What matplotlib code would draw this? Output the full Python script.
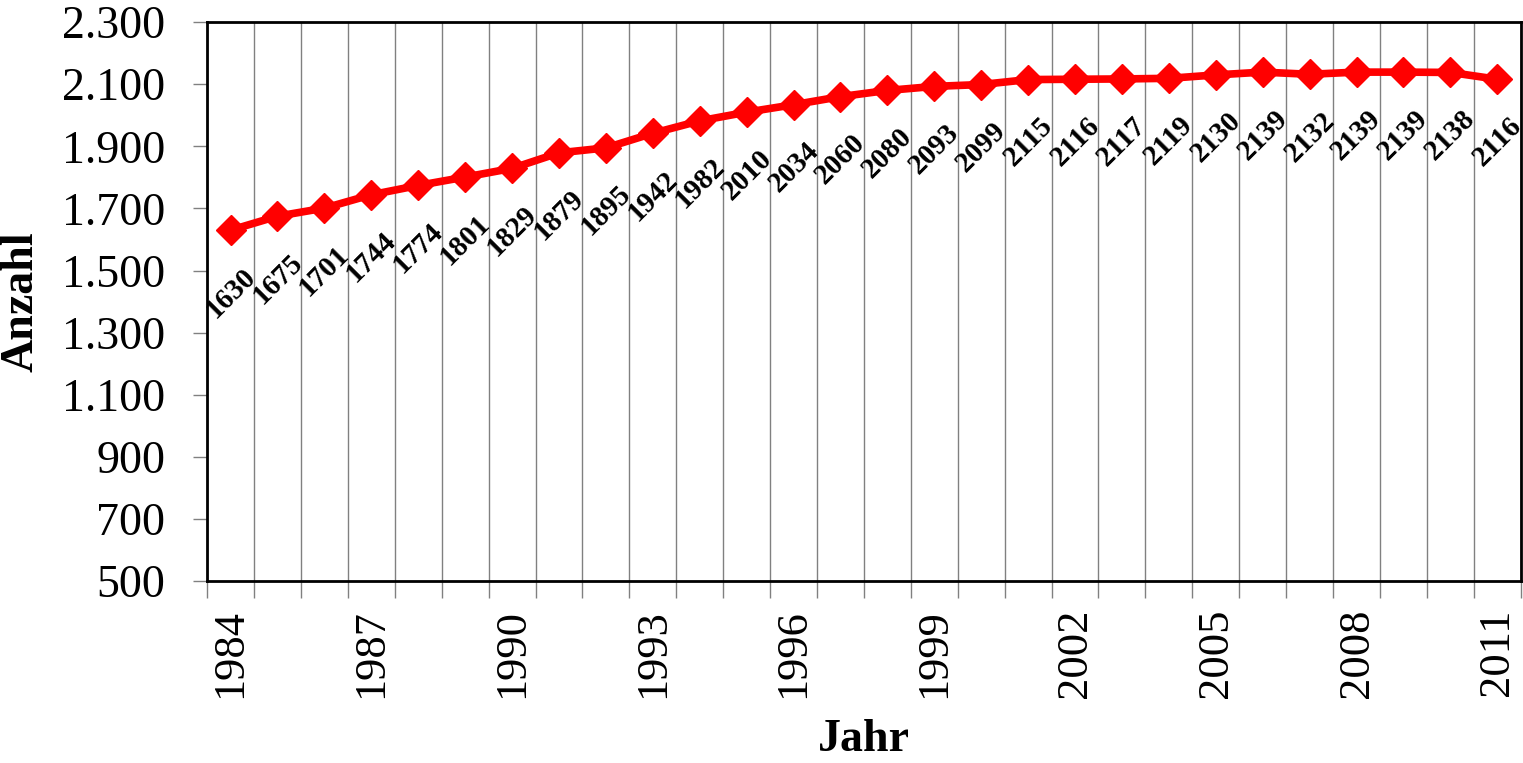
import matplotlib.pyplot as plt
from matplotlib.ticker import FixedLocator, FuncFormatter

plt.rcParams['font.family'] = ['Liberation Serif', 'DejaVu Serif']

# data
years = list(range(1984, 2012))
anzahl = [1630, 1675, 1701, 1744, 1774, 1801, 1829, 1879, 1895, 1942,
          1982, 2010, 2034, 2060, 2080, 2093, 2099, 2115, 2116, 2117,
          2119, 2130, 2139, 2132, 2139, 2139, 2138, 2116]
y_ticks = [500, 700, 900, 1100, 1300, 1500, 1700, 1900, 2100, 2300]

fig = plt.figure(figsize=(15.23, 7.63), dpi=100)
ax = fig.add_axes([0.136, 0.2385, 0.8625, 0.7325])

x = list(range(len(years)))
ax.plot(x, anzahl, color='#ff0000', linewidth=5.5, marker='D', markersize=15,
        solid_joinstyle='round', zorder=3)

for xi, v in zip(x, anzahl):
    ax.annotate(str(v), (xi, v), xytext=(0, -45), textcoords='offset points',
                ha='center', va='center', rotation=45, fontsize=21,
                fontweight='bold', zorder=4)

ax.set_xlim(-0.5, len(years) - 0.5)
ax.set_ylim(500, 2300)

# category axis: labels every 3 years, ticks/grid at category boundaries
ax.xaxis.set_major_locator(FixedLocator(x[::3]))
ax.set_xticklabels([str(y) for y in years[::3]], rotation=90)
ax.xaxis.set_minor_locator(FixedLocator([i - 0.5 for i in range(len(years) + 1)]))
ax.tick_params(axis='x', which='major', length=0, labelsize=32, pad=20)
ax.tick_params(axis='x', which='minor', length=12, color='#808080', width=1)
ax.grid(True, axis='x', which='minor', color='#808080', linewidth=1)

ax.set_yticks(y_ticks)
ax.yaxis.set_major_formatter(FuncFormatter(lambda v, p: f'{int(v):,}'.replace(',', '.')))
ax.tick_params(axis='y', length=10, color='#808080', width=1, labelsize=33, pad=20)

for s in ax.spines.values():
    s.set_color('black')
    s.set_linewidth(2)

ax.set_xlabel('Jahr', fontsize=33, fontweight='bold', labelpad=15)
ax.set_ylabel('Anzahl', fontsize=33, fontweight='bold', labelpad=14)

fig.savefig('out.png', dpi=100)
